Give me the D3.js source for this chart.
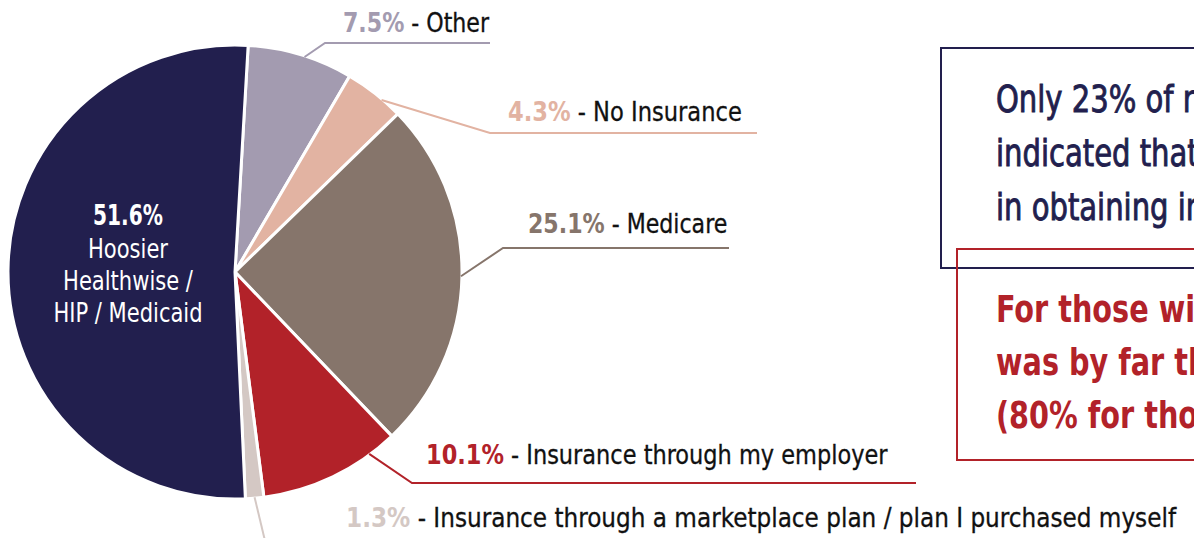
<!DOCTYPE html>
<html lang="en">
<head>
    <meta charset="UTF-8">
    <title>Insurance type pie</title>
    <style>
        html, body {
            margin: 0;
            padding: 0;
            background: #fff;
            overflow: hidden;
        }

        svg {
            display: block;
            font-family: "DejaVu Sans Condensed", "Liberation Sans Narrow", "Roboto", sans-serif;
        }
    </style>
</head>
<body>
    <div class="box"></div>
    <script src="https://d3js.org/d3.v7.min.js"></script>
    <script>
        // 数据
        const categories = ['Other', 'No Insurance', 'Medicare', 'Insurance through my employer',
            'Insurance through a marketplace plan / plan I purchased myself', 'Hoosier Healthwise / HIP / Medicaid'];
        const values = [7.5, 4.3, 25.1, 10.1, 1.3, 51.6];
        const colors = ['#a39bb0', '#e2b3a2', '#86756b', '#b22229', '#d4c8c4', '#221f4e'];

        const centerLines = ['Hoosier', 'Healthwise /', 'HIP / Medicaid'];

        const noteTop = ['Only 23% of respondents', 'indicated that they had difficulty', 'in obtaining insurance.'];
        const noteBottom = ['For those with insurance, Medicaid', 'was by far the most common type', '(80% for those with low incomes)'];

        const data = categories.map((c, i) => ({ name: c, value: values[i], color: colors[i] }));

        const width = 1194, height = 538;
        const cx = 235, cy = 272, radius = 227;

        // 标注线位置 (frac: 扇区内的角度比例, sx: 横向压缩模拟窄体字)
        const callouts = [
            { frac: 0.54, elbow: [325, 43], end: 490, tx: 343, ty: 32, sx: 0.91 },
            { frac: 0.65, elbow: [490, 133], end: 757, tx: 508, ty: 121, sx: 0.93 },
            { frac: 0.5, elbow: [503, 248], end: 729, tx: 528, ty: 233, sx: 0.91 },
            { frac: 0.2, elbow: [412, 483], end: 916, tx: 426, ty: 464, sx: 0.925 },
            { frac: 0.5, elbow: [266, 545], end: 266, tx: 346, ty: 527, sx: 0.955 },
        ];

        const svg = d3.select('.box').append('svg').attr('width', width).attr('height', height);

        const g = svg.append('g').attr('transform', `translate(${cx}, ${cy})`);

        const start = 0.058;
        const pie = d3.pie().sort(null).value(d => d.value)
            .startAngle(start).endAngle(start + Math.PI * 2);
        const arcs = pie(data);

        const arc = d3.arc().innerRadius(0).outerRadius(radius);

        g.selectAll('.slice').data(arcs).enter().append('path')
            .attr('class', 'slice')
            .attr('d', arc)
            .attr('fill', d => d.data.color)
            .attr('stroke', '#fff')
            .attr('stroke-width', 3)
            .attr('stroke-linejoin', 'round');

        // 标注
        const lab = svg.append('g');
        callouts.forEach((c, i) => {
            const a = arcs[i];
            const ang = a.startAngle + (a.endAngle - a.startAngle) * c.frac;
            const r = radius - 1;
            const p0 = [cx + r * Math.sin(ang), cy - r * Math.cos(ang)];
            const pts = [p0, c.elbow, [c.end, c.elbow[1]]];
            lab.append('path')
                .attr('d', d3.line()(pts))
                .attr('fill', 'none')
                .attr('stroke', a.data.color)
                .attr('stroke-width', 2);

            const t = lab.append('text')
                .attr('transform', `translate(${c.tx}, ${c.ty}) scale(${c.sx}, 1)`)
                .attr('font-size', 27);
            t.append('tspan')
                .attr('font-weight', 'bold')
                .attr('fill', a.data.color)
                .text(d3.format('.1f')(a.data.value) + '%');
            t.append('tspan')
                .attr('fill', '#111')
                .attr('stroke', '#111')
                .attr('stroke-width', 0.3)
                .text(' - ' + a.data.name);
        });

        // 中心标签
        const big = arcs[5];
        const ct = svg.append('g').attr('fill', '#fff').attr('text-anchor', 'middle');
        ct.append('text')
            .attr('transform', 'translate(128, 225) scale(0.8, 1)')
            .attr('font-size', 28).attr('font-weight', 'bold')
            .text(d3.format('.1f')(big.data.value) + '%');
        ct.selectAll('.cl').data(centerLines).enter().append('text')
            .attr('transform', (d, i) => `translate(128, ${258 + i * 32}) scale(0.9, 1)`)
            .attr('font-size', 26)
            .text(d => d);

        // 右侧说明框
        svg.append('rect')
            .attr('x', 941).attr('y', 48).attr('width', 400).attr('height', 220)
            .attr('fill', 'none').attr('stroke', '#221f4e').attr('stroke-width', 2);
        svg.append('rect')
            .attr('x', 957).attr('y', 249).attr('width', 400).attr('height', 211)
            .attr('fill', 'none').attr('stroke', '#b22229').attr('stroke-width', 2);

        svg.selectAll('.nt').data(noteTop).enter().append('text')
            .attr('transform', (d, i) => `translate(996, ${112 + i * 54}) scale(0.85, 1)`)
            .attr('font-size', 38)
            .attr('fill', '#221f4e')
            .attr('stroke', '#221f4e')
            .attr('stroke-width', 0.9)
            .text(d => d);

        svg.selectAll('.nb').data(noteBottom).enter().append('text')
            .attr('transform', (d, i) => `translate(996, ${322 + i * 53}) scale(0.84, 1)`)
            .attr('font-size', 38)
            .attr('font-weight', 'bold')
            .attr('fill', '#b22229')
            .text(d => d);
    </script>
</body>
</html>
